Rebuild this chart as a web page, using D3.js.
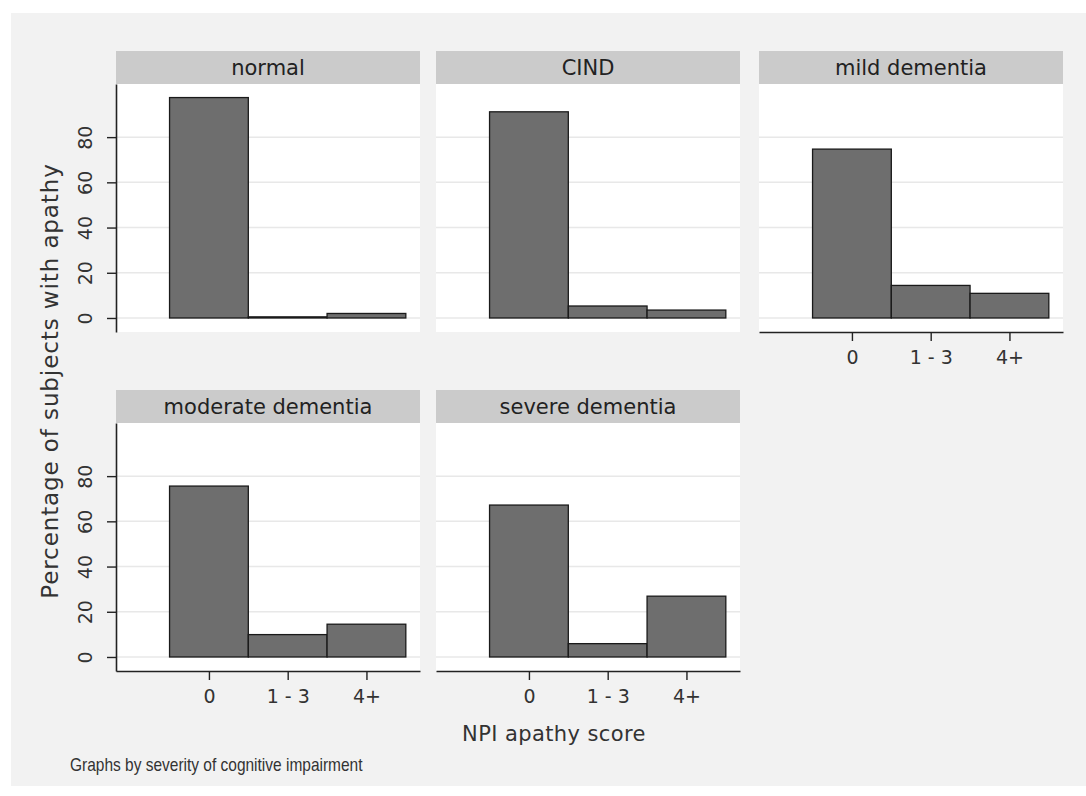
<!DOCTYPE html>
<html>
<head>
<meta charset="utf-8">
<script src="https://cdn.jsdelivr.net/npm/d3@7"></script>
<style>
  html, body { margin: 0; padding: 0; background: #ffffff; }
  svg { display: block; }
</style>
</head>
<body>
<svg id="chart" width="1086" height="796"></svg>
<script>
// ---- data ----
const categories = ["0", "1 - 3", "4+"];
const panelNames = ["normal", "CIND", "mild dementia", "moderate dementia", "severe dementia"];
const normalValues = [97.5, 0.5, 2.0];
const cindValues = [91.2, 5.3, 3.5];
const mildValues = [74.7, 14.4, 10.9];
const moderateValues = [75.6, 9.9, 14.5];
const severeValues = [67.2, 5.9, 26.9];
const yTickValues = [0, 20, 40, 60, 80];
const yTitle = "Percentage of subjects with apathy";
const xTitle = "NPI apathy score";
const note = "Graphs by severity of cognitive impairment";

const seriesByPanel = [normalValues, cindValues, mildValues, moderateValues, severeValues];

// ---- layout ----
const svg = d3.select("#chart");
const font = "'DejaVu Sans', Verdana, sans-serif";

svg.append("rect").attr("x", 11).attr("y", 13).attr("width", 1075).attr("height", 773).attr("fill", "#f2f2f2");

const colX = [116, 436, 759];
const rowY = [51, 390];
const panelW = 304;
const stripH = 33;
const plotH = 248;

const x = d3.scaleLinear().domain([-1.18, 2.68]).range([0, panelW]);
const y = d3.scaleLinear().domain([-6.2, 103.5]).range([plotH, 0]);

const panels = panelNames.map((name, i) => ({
  name, values: seriesByPanel[i], col: i % 3, row: Math.floor(i / 3)
}));

panels.forEach(p => {
  const g = svg.append("g").attr("transform", `translate(${colX[p.col]},${rowY[p.row]})`);
  // strip
  g.append("rect").attr("x", 0).attr("y", 0).attr("width", panelW).attr("height", stripH).attr("fill", "#cbcbcb");
  g.append("text").attr("x", panelW / 2).attr("y", stripH / 2 + 7.5)
    .attr("text-anchor", "middle").attr("font-family", font).attr("font-size", 21).attr("fill", "#222")
    .text(p.name);
  const pg = g.append("g").attr("transform", `translate(0,${stripH})`);
  pg.append("rect").attr("x", 0).attr("y", 0).attr("width", panelW).attr("height", plotH).attr("fill", "#ffffff");
  // gridlines
  pg.selectAll("line.grid").data(yTickValues).enter().append("line")
    .attr("class", "grid")
    .attr("x1", 0).attr("x2", panelW)
    .attr("y1", d => y(d)).attr("y2", d => y(d))
    .attr("stroke", "#e8e8e8").attr("stroke-width", 1.5);
  // bars
  pg.selectAll("rect.bar").data(p.values).enter().append("rect")
    .attr("class", "bar")
    .attr("x", (d, i) => x(i - 0.5))
    .attr("width", (d, i) => x(i + 0.5) - x(i - 0.5))
    .attr("y", d => y(d))
    .attr("height", d => y(0) - y(d))
    .attr("fill", "#6e6e6e").attr("stroke", "#1a1a1a").attr("stroke-width", 1.3);

  // y axis on first column
  if (p.col === 0) {
    const ya = pg.append("g").call(d3.axisLeft(y).tickValues(yTickValues).tickSize(9).tickSizeOuter(0));
    ya.select(".domain").attr("stroke", "#222").attr("stroke-width", 1.6);
    ya.selectAll(".tick line").attr("stroke", "#222").attr("stroke-width", 1.4);
    ya.selectAll(".tick text")
      .attr("x", 0).attr("y", -24).attr("dy", 0)
      .attr("transform", "rotate(-90)")
      .attr("text-anchor", "middle")
      .attr("font-family", font).attr("font-size", 19).attr("fill", "#333");
  }
  // x axis on last panel of each column
  const lastInCol = (p.row === 1) || (p.row === 0 && p.col === 2);
  if (lastInCol) {
    const xa = pg.append("g").attr("transform", `translate(0,${plotH})`)
      .call(d3.axisBottom(x).tickValues([0, 1, 2]).tickFormat(i => categories[i]).tickSize(9).tickSizeOuter(0).tickPadding(10));
    xa.select(".domain").attr("stroke", "#222").attr("stroke-width", 1.6);
    xa.selectAll(".tick line").attr("stroke", "#222").attr("stroke-width", 1.4);
    xa.selectAll(".tick text").attr("font-family", font).attr("font-size", 19).attr("fill", "#333");
  }
});

// titles
svg.append("text")
  .attr("transform", "translate(58,381) rotate(-90)")
  .attr("text-anchor", "middle").attr("font-family", font).attr("font-size", 23)
  .attr("letter-spacing", 0.9).attr("fill", "#333")
  .text(yTitle);
svg.append("text")
  .attr("x", 554).attr("y", 741)
  .attr("text-anchor", "middle").attr("font-family", font).attr("font-size", 21)
  .attr("letter-spacing", 0.4).attr("fill", "#333")
  .text(xTitle);
svg.append("text")
  .attr("transform", "translate(70,771) scale(0.885,1)")
  .attr("font-family", "'Liberation Sans', Arial, sans-serif").attr("font-size", 17.5).attr("fill", "#333")
  .text(note);
</script>
</body>
</html>
